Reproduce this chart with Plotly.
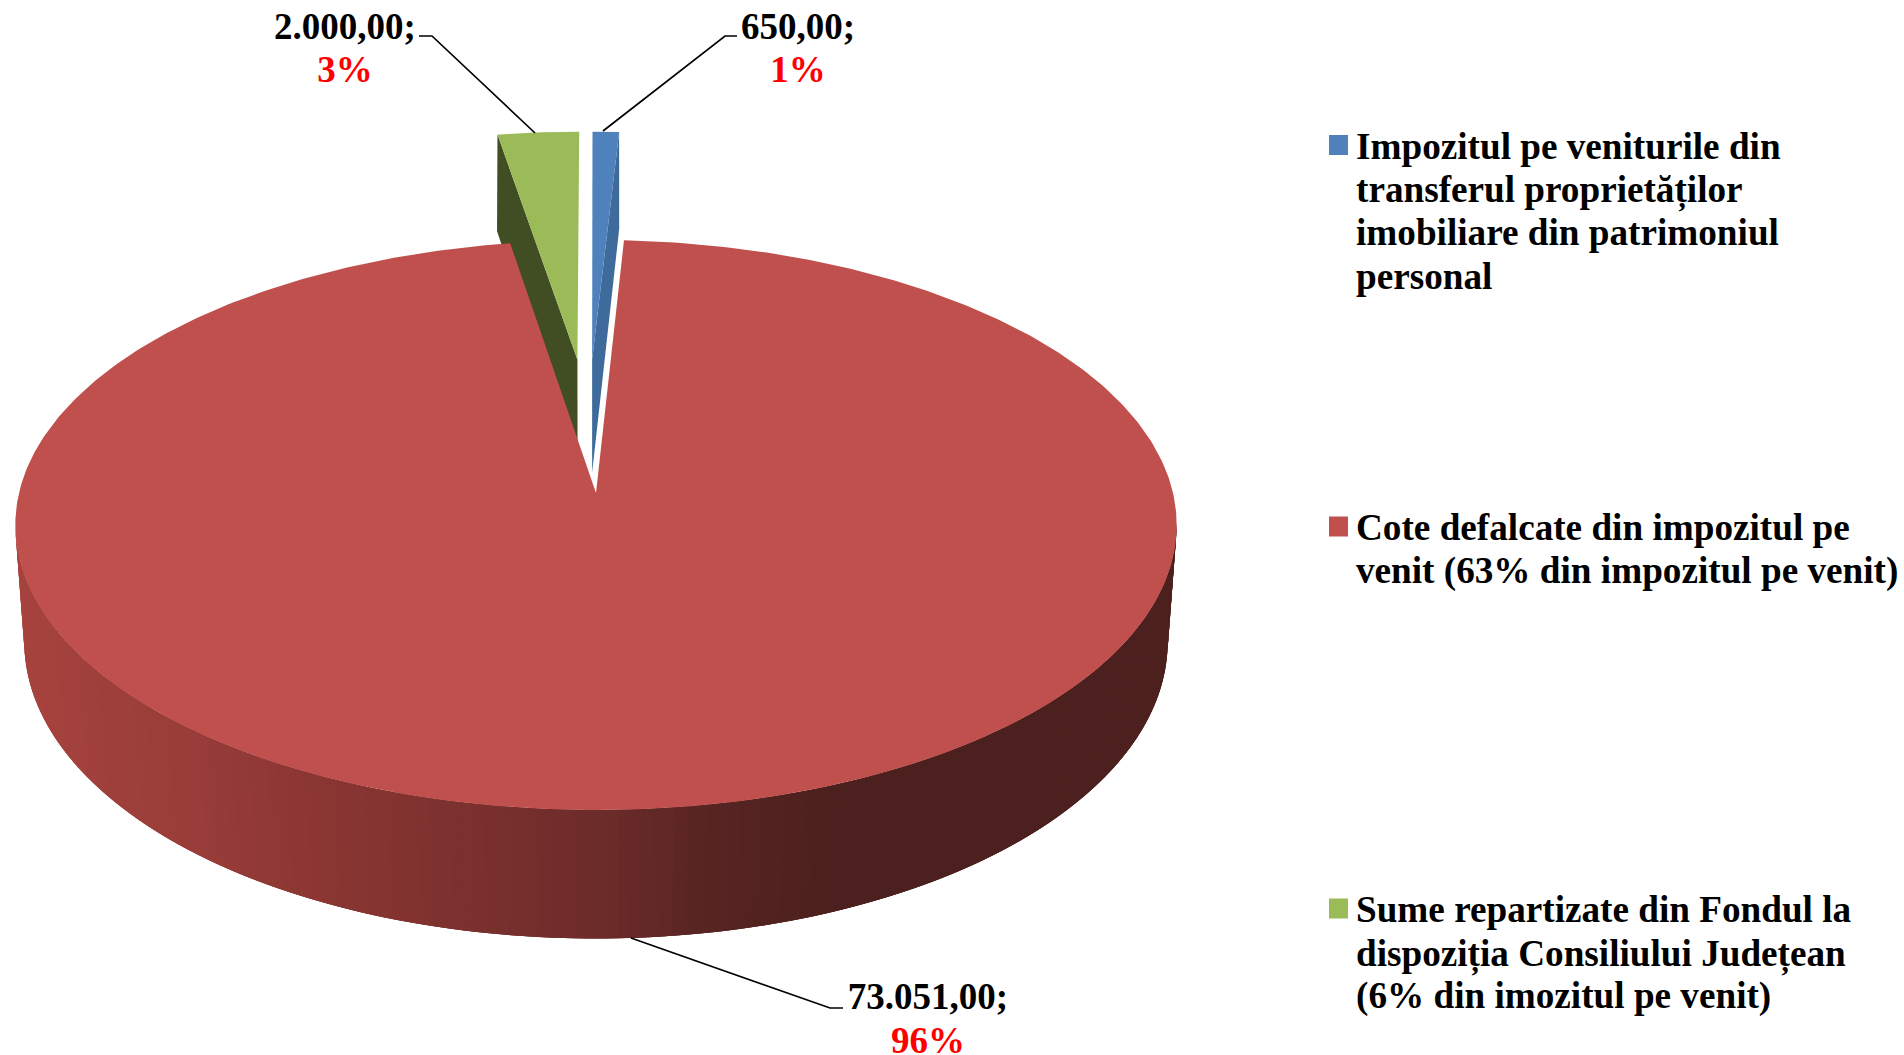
import numpy as np
import plotly.graph_objects as go

categories = ["Impozitul pe veniturile din transferul proprietăților imobiliare din patrimoniul personal",
              "Cote defalcate din impozitul pe venit (63% din impozitul pe venit)",
              "Sume repartizate din Fondul la dispoziția Consiliului Județean (6% din imozitul pe venit)"]
values = [650.0, 73051.0, 2000.0]
value_labels = ["650,00;", "73.051,00;", "2.000,00;"]
percent_labels = ["1%", "96%", "3%"]
colors = ["#4F81BD", "#C0504D", "#9BBB59"]
side_colors = ["#3F6A9C", "#A8433F", "#414D22"]
legend_lines = [["Impozitul pe veniturile din", "transferul proprietăților", "imobiliare din patrimoniul", "personal"],
                ["Cote defalcate din impozitul pe", "venit (63% din impozitul pe venit)"],
                ["Sume repartizate din Fondul la", "dispoziția Consiliului Județean", "(6% din imozitul pe venit)"]]

W, H = 1904, 1055
X0 = 596
TOP = dict(y0=493.0, a=577.0, b=281.4, k=0.1123)
BOT = dict(y0=612.6, a=569.0, b=294.0, k=0.098)
FONT = "Liberation Serif"


def project(u, v, plane):
    d = 1 + plane["k"] * np.asarray(v)
    return X0 + plane["a"] * np.asarray(u) / d, plane["y0"] - plane["b"] * np.asarray(v) / d


def arc(t0, t1, off=(0, 0), n=240):
    t = np.radians(np.linspace(t0, t1, n))
    return np.sin(t) + off[0], np.cos(t) + off[1]


def poly(fig, x, y, color, width=0.0):
    fig.add_trace(go.Scatter(x=list(x), y=list(y), mode="lines", fill="toself", fillcolor=color,
                             line=dict(color=color, width=width), hoverinfo="skip", showlegend=False))


total = sum(values)
sweep = [v / total * 360 for v in values]
blue_a = (0.0, sweep[0])
red_a = (sweep[0], sweep[0] + sweep[1])
green_a = (red_a[1], 360.0)
OFF_BLUE = (-0.0071, 0.50)
OFF_GREEN = (-0.034, 0.50)

fig = go.Figure()

# green slice: cut side, then top face
u, v = arc(green_a[0], green_a[0], OFF_GREEN, 2)
ax, ay = project([OFF_GREEN[0]], [OFF_GREEN[1]], TOP)
bx, by = project([OFF_GREEN[0]], [OFF_GREEN[1]], BOT)
rx, ry = project(u[:1], v[:1], TOP)
sx, sy = project(u[:1], v[:1], BOT)
poly(fig, [ax[0], rx[0], sx[0], bx[0], ax[0]], [ay[0], ry[0], sy[0], by[0], ay[0]], side_colors[2])
u, v = arc(*green_a, OFF_GREEN, 40)
fx, fy = project(u, v, TOP)
poly(fig, np.r_[ax, fx, ax], np.r_[ay, fy, ay], colors[2])

# blue slice: cut side, then top face
u, v = arc(blue_a[1], blue_a[1], OFF_BLUE, 2)
ax, ay = project([OFF_BLUE[0]], [OFF_BLUE[1]], TOP)
bx, by = project([OFF_BLUE[0]], [OFF_BLUE[1]], BOT)
rx, ry = project(u[:1], v[:1], TOP)
sx, sy = project(u[:1], v[:1], BOT)
poly(fig, [ax[0], rx[0], sx[0], bx[0], ax[0]], [ay[0], ry[0], sy[0], by[0], ay[0]], side_colors[0])
u, v = arc(*blue_a, OFF_BLUE, 20)
fx, fy = project(u, v, TOP)
poly(fig, np.r_[ax, fx, ax], np.r_[ay, fy, ay], colors[0])

# red slice: rim painted left to right, each step overlapped by the next, then top face
stop_x = [15, 100, 200, 300, 450, 600, 700, 830, 1200]
stop_r = [168, 160, 152, 140, 125, 108, 88, 76, 76]
stop_g = [68, 64, 61, 55, 50, 44, 37, 32, 32]
stop_b = [64, 60, 57, 52, 47, 42, 35, 30, 30]
END = 96.0
for t in np.arange(264.0, END, -1.0):
    u, v = arc(t, max(t - 3.0, END), n=4)
    tx, ty = project(u, v, TOP)
    lx, ly = project(u[::-1], v[::-1], BOT)
    xm = (tx[0] + lx[-1]) / 2
    c = "rgb(%d,%d,%d)" % tuple(np.interp(xm, stop_x, s) for s in (stop_r, stop_g, stop_b))
    poly(fig, np.r_[tx, lx, tx[:1]], np.r_[ty, ly, ty[:1]], c)
u, v = arc(*red_a, n=500)
fx, fy = project(u, v, TOP)
poly(fig, np.r_[X0, fx, X0], np.r_[TOP["y0"], fy, TOP["y0"]], colors[1])

# leader lines
leaders = [([603, 725, 737], [131, 36, 36]),
           ([631, 830, 843], [938, 1008, 1008]),
           ([535, 432, 419], [133, 36, 36])]
for lx, ly in leaders:
    fig.add_trace(go.Scatter(x=lx, y=ly, mode="lines", line=dict(color="black", width=1.7),
                             hoverinfo="skip", showlegend=False))

# data labels
label_x = [798, 928, 345]
label_y1 = [30, 1000, 30]
label_y2 = [73, 1044, 73]
fig.add_trace(go.Scatter(x=label_x, y=label_y1, mode="text", text=["<b>%s</b>" % s for s in value_labels],
                         textposition="middle center", textfont=dict(family=FONT, size=37, color="black"),
                         hoverinfo="skip", showlegend=False, cliponaxis=False))
fig.add_trace(go.Scatter(x=label_x, y=label_y2, mode="text", text=["<b>%s</b>" % s for s in percent_labels],
                         textposition="middle center", textfont=dict(family=FONT, size=37, color="#FF0000"),
                         hoverinfo="skip", showlegend=False, cliponaxis=False))

ann = []
legend_y = [[146, 190, 232, 276], [527, 571], [909, 954, 996]]
legend_box = [145, 526.5, 908.5]
shapes = []
for c, ys, lines, by_ in zip(colors, legend_y, legend_lines, legend_box):
    shapes.append(dict(type="rect", xref="x", yref="y", x0=1329, x1=1348, y0=by_ - 10, y1=by_ + 10,
                       fillcolor=c, line=dict(width=0)))
    for y, s in zip(ys, lines):
        ann.append(dict(x=1354, y=y, xref="x", yref="y", text="<b>%s</b>" % s, showarrow=False, xanchor="left",
                        yanchor="middle", font=dict(family=FONT, size=37.2, color="black")))

fig.update_layout(width=W, height=H, margin=dict(l=0, r=0, t=0, b=0), paper_bgcolor="white",
                  plot_bgcolor="white", showlegend=False, annotations=ann, shapes=shapes,
                  xaxis=dict(range=[0, W], visible=False, fixedrange=True),
                  yaxis=dict(range=[H, 0], visible=False, fixedrange=True))
fig.write_html("out.html", config={"displayModeBar": False},
               post_script="document.body.style.margin='0';document.documentElement.style.overflow='hidden';")
